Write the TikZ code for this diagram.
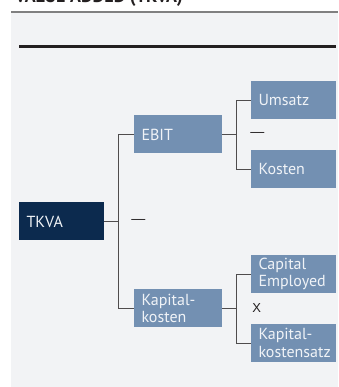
\documentclass[tikz,border=0pt]{standalone}
\usepackage{fontspec}
\setmainfont{PT Sans}
\newfontfamily\opfont{Liberation Sans}
\usepackage{xcolor}
\usetikzlibrary{positioning}

\definecolor{navy}{HTML}{0C2A4E}
\definecolor{steel}{HTML}{7390B2}
\definecolor{panel}{HTML}{F2F3F5}
\definecolor{boxtext}{HTML}{F0F3F7}
\definecolor{ink}{HTML}{231F20}

\tikzset{
  box/.style={shape=rectangle,text=boxtext,align=left,inner xsep=7.5pt,inner ysep=0pt,
    minimum height=38pt,font=\fontsize{16}{17.6}\selectfont},
  rootbox/.style={box,fill=navy,text width=70pt},
  midbox/.style={box,fill=steel,text width=73pt},
  leafbox/.style={box,fill=steel,text width=70pt},
  oplabel/.style={inner sep=0pt,text=ink,font=\opfont\fontsize{14}{14}\selectfont}
}

\begin{document}
\begin{tikzpicture}[x=1pt,y=1pt,grow'=east,
    level 1/.style={sibling distance=174pt,level distance=116.5pt},
    level 2/.style={sibling distance=69pt,level distance=115.5pt},
    edge from parent/.style={draw,line width=0.9pt,color=ink!80},
    edge from parent path={(\tikzparentnode.east) -- ++(14.5pt,0) |- (\tikzchildnode.west)}]
    \useasboundingbox (0,0) rectangle (338,387);
    % panel and rules
    \fill[panel] (11,0) rectangle (338,375);
    \draw[gray,line width=1.3pt] (11,375) -- (338,375);
    \draw[ink,line width=2.5pt] (19,340.3) -- (336,340.3);
    \node[anchor=base west,inner sep=0pt,text=ink,font=\fontsize{18}{18}\selectfont\bfseries] (title) at (15,384.5) {VALUE ADDED (TKVA)};
    % tree
    \node[rootbox] (tkva) at (61.5,165.5) {TKVA}
        child{node[midbox] (ebit) {EBIT}
            child{node[leafbox] (umsatz) {Umsatz}}
            child{node[leafbox] (kosten) {Kosten}}}
        child{node[midbox] (kapkosten) {Kapital-\\kosten}
            child{node[leafbox] (capemp) {Capital\\Employed}}
            child{node[leafbox] (kapsatz) {Kapital-\\kostensatz}}};
    % operators
    \node[oplabel,right=27pt of tkva] (opminus) {—};
    \node[oplabel,right=28pt of ebit] (opebit) {—};
    \node[oplabel,right=30pt of kapkosten,font=\opfont\fontsize{13}{13}\selectfont] (optimes) {X};
\end{tikzpicture}
\end{document}
